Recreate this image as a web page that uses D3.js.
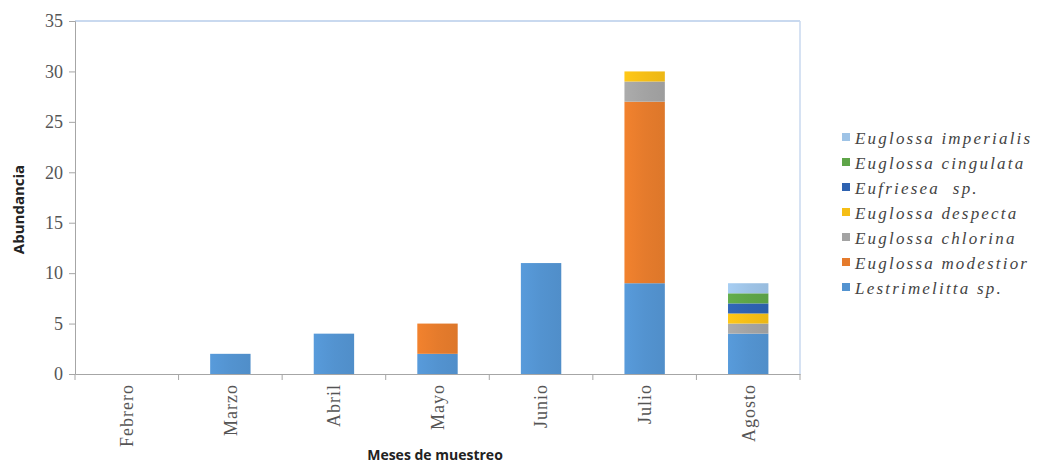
<!DOCTYPE html>
<html>
<head>
<meta charset="utf-8">
<script src="https://cdn.jsdelivr.net/npm/d3@7"></script>
<style>
  body { margin: 0; background: #fff; }
  svg { display: block; }
</style>
</head>
<body>
<div id="chart"></div>
<script>
// months and species (bottom to top in each stack)
var months = ['Febrero', 'Marzo', 'Abril', 'Mayo', 'Junio', 'Julio', 'Agosto'];
var species = ['Lestrimelitta sp.', 'Euglossa modestior', 'Euglossa chlorina', 'Euglossa despecta',
  'Eufriesea  sp.', 'Euglossa cingulata', 'Euglossa imperialis'];
var colors = ['#5393d0', '#e57b2c', '#a3a3a3', '#f5be16', '#2e62b0', '#5ea548', '#9ec3e6'];

// abundance per species, one value per month
var lestrimelitta = [0, 2, 4, 2, 11, 9, 4];
var modestior = [0, 0, 0, 3, 0, 18, 0];
var chlorina = [0, 0, 0, 0, 0, 2, 1];
var despecta = [0, 0, 0, 0, 0, 1, 1];
var eufriesea = [0, 0, 0, 0, 0, 0, 1];
var cingulata = [0, 0, 0, 0, 0, 0, 1];
var imperialis = [0, 0, 0, 0, 0, 0, 1];
var yTicks = [0, 5, 10, 15, 20, 25, 30, 35];

var seriesValues = [lestrimelitta, modestior, chlorina, despecta, eufriesea, cingulata, imperialis];

var width = 1038, height = 465;
var margin = {left: 75, right: 238, top: 21, bottom: 91};

var svg = d3.select('#chart').append('svg').attr('width', width).attr('height', height);

var rows = months.map(function(m, i) {
  var r = {month: m};
  species.forEach(function(s, j) { r[s] = seriesValues[j][i]; });
  return r;
});
var stacked = d3.stack().keys(species)(rows);

var x = d3.scaleBand().domain(months).range([margin.left, width - margin.right]).paddingInner(0.61).paddingOuter(0.305);
var xOuter = d3.scaleBand().domain(months).range([margin.left, width - margin.right]);
var y = d3.scaleLinear().domain([0, 35]).range([height - margin.bottom, margin.top]);

// light gradients so bars look like the Excel original
var defs = svg.append('defs');
colors.forEach(function(c, i) {
  var g = defs.append('linearGradient').attr('id', 'g' + i).attr('x1', 0).attr('x2', 1).attr('y1', 0).attr('y2', 0);
  g.append('stop').attr('offset', '0%').attr('stop-color', d3.color(c).brighter(0.15));
  g.append('stop').attr('offset', '50%').attr('stop-color', c);
  g.append('stop').attr('offset', '100%').attr('stop-color', d3.color(c).darker(0.1));
});

// plot frame (top and right in light blue)
svg.append('line').attr('x1', margin.left).attr('x2', width - margin.right)
  .attr('y1', margin.top).attr('y2', margin.top).attr('stroke', '#c9d9ef').attr('stroke-width', 2);
svg.append('line').attr('x1', width - margin.right).attr('x2', width - margin.right)
  .attr('y1', margin.top).attr('y2', height - margin.bottom).attr('stroke', '#c9d9ef').attr('stroke-width', 1.5);

// bars
svg.append('g').selectAll('g').data(stacked).enter().append('g')
  .attr('fill', function(d, i) { return 'url(#g' + i + ')'; })
  .selectAll('rect').data(function(d) { return d; }).enter().append('rect')
  .attr('x', function(d) { return x(d.data.month); })
  .attr('width', x.bandwidth())
  .attr('y', function(d) { return y(d[1]); })
  .attr('height', function(d) { return y(d[0]) - y(d[1]); });

// y axis
var yAxis = svg.append('g').attr('transform', 'translate(' + margin.left + ',0)')
  .call(d3.axisLeft(y).tickValues(yTicks).tickSize(6).tickPadding(6));
yAxis.select('.domain').attr('stroke', '#a6a6a6');
yAxis.selectAll('.tick line').attr('stroke', '#a6a6a6');
yAxis.selectAll('text').attr('font-family', 'Liberation Serif, serif').attr('font-size', 18).attr('fill', '#555');

// x axis: ticks sit between the months
var xAxis = svg.append('g').attr('transform', 'translate(0,' + (height - margin.bottom) + ')')
  .call(d3.axisBottom(xOuter).tickSize(0).tickPadding(0));
xAxis.select('.domain').attr('stroke', '#a6a6a6');
xAxis.selectAll('text')
  .attr('font-family', 'Liberation Serif, serif').attr('font-size', 18).attr('fill', '#555')
  .attr('letter-spacing', 1)
  .attr('transform', 'rotate(-90)').attr('text-anchor', 'end')
  .attr('x', -10).attr('y', 0).attr('dy', '0.35em');
svg.append('g').selectAll('line').data(months.concat(['end'])).enter().append('line')
  .attr('x1', function(d, i) { return margin.left + i * xOuter.step(); })
  .attr('x2', function(d, i) { return margin.left + i * xOuter.step(); })
  .attr('y1', height - margin.bottom).attr('y2', height - margin.bottom + 6)
  .attr('stroke', '#a6a6a6');

// axis titles
svg.append('text').attr('transform', 'translate(24,' + (margin.top + (height - margin.bottom - margin.top) / 2 + 12) + ') rotate(-90)')
  .attr('text-anchor', 'middle').attr('font-family', 'Open Sans, sans-serif').attr('font-weight', 'bold')
  .attr('font-size', 15).attr('fill', '#222').text('Abundancia');
svg.append('text').attr('x', 435).attr('y', 460)
  .attr('text-anchor', 'middle').attr('font-family', 'Open Sans, sans-serif').attr('font-weight', 'bold')
  .attr('font-size', 14).attr('fill', '#222').text('Meses de muestreo');

// legend, top entry is the last species
var legend = svg.append('g').selectAll('g').data(species.slice().reverse()).enter().append('g')
  .attr('transform', function(d, i) { return 'translate(842,' + (138 + i * 25) + ')'; });
legend.append('rect').attr('x', 0).attr('y', -5).attr('width', 8).attr('height', 8)
  .attr('fill', function(d) { return colors[species.indexOf(d)]; });
legend.append('text').attr('x', 13).attr('y', 0).attr('dy', '0.35em')
  .attr('font-family', 'Liberation Serif, serif').attr('font-style', 'italic')
  .attr('font-size', 17).attr('letter-spacing', 2.2).attr('fill', '#444').text(function(d) { return d; })
  .style('white-space', 'pre');
</script>
</body>
</html>
